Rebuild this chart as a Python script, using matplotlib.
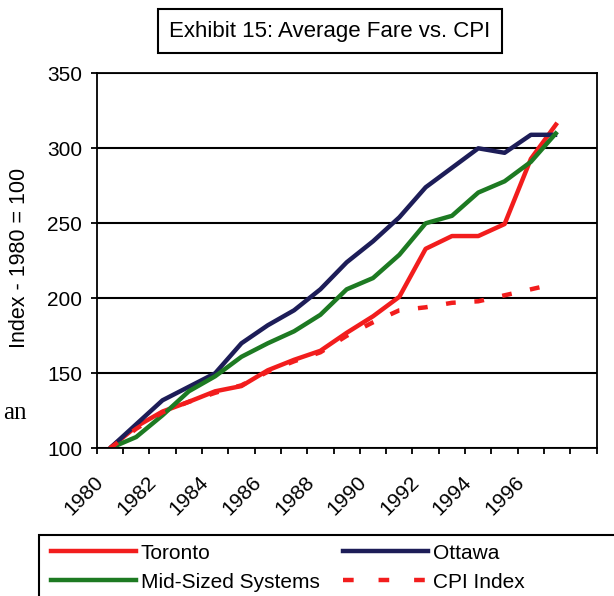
import numpy as np
import matplotlib.pyplot as plt
from matplotlib.patches import Rectangle
from matplotlib.lines import Line2D

years = list(range(1980, 1998))
toronto = [100, 114.5, 124.5, 131, 138, 141.5, 152, 159, 165, 177, 188, 201, 233, 241.5, 241.5, 249.5, 293, 317]
ottawa = [100, 116, 132, 141, 150, 170, 182, 192, 206, 224, 238, 254, 274, 287, 300, 297, 309, 309]
mid_sized = [100, 107.5, 122, 138, 148, 161, 170, 178, 189, 206, 213.5, 229, 250, 255, 270.5, 278, 291, 311]
cpi = [100, 113, 124, 131, 137, 142, 151, 158, 164, 175, 184, 192, 194, 197, 198, 202, 206, 210]

RED = '#f21d1d'
NAVY = '#1d1d58'
GREEN = '#1d7a22'

plt.rcParams['font.family'] = ['Liberation Sans', 'DejaVu Sans']

fig = plt.figure(figsize=(6.14, 5.96), dpi=100)
W, H = 614, 596
ax = fig.add_axes([96.7 / W, 1 - 448.3 / H, 500 / W, 375 / H])

x = np.arange(len(years))
ax.plot(x, toronto, color=RED, lw=3.2, solid_capstyle='butt')
ax.plot(x, ottawa, color=NAVY, lw=3.2, solid_capstyle='butt')
ax.plot(x, mid_sized, color=GREEN, lw=3.2, solid_capstyle='butt')
ax.plot(x, cpi, color=RED, lw=3.2, linestyle=(0, (2.2, 4.2)), dash_capstyle='butt')

ax.set_xlim(-0.5, len(years) + 0.5)
ax.set_ylim(100, 350)
ax.set_yticks(np.arange(100, 351, 50))
ax.yaxis.grid(True, color='black', lw=1.5)
ax.set_axisbelow(True)

# tick marks sit between categories, year labels go on every other category
ax.set_xticks(np.arange(-0.5, len(years) + 1))
ax.set_xticklabels([])
ax.set_xticks(x[::2] - 0.36, minor=True)
ax.set_xticklabels([str(y) for y in years[::2]], minor=True)
ax.tick_params(axis='x', which='major', direction='out', length=4.5, width=1.3, color='black')
ax.tick_params(axis='x', which='minor', length=0, pad=22, labelsize=15)
ax.tick_params(axis='y', direction='out', length=4.5, width=1.3, pad=6, labelsize=15)
plt.setp(ax.get_xminorticklabels(), rotation=45, ha='right', va='center', rotation_mode='anchor')

for s in ax.spines.values():
    s.set_color('black')
    s.set_linewidth(1.3)

fig.text(20 / W, 1 - 258 / H, 'Index - 1980 = 100', rotation=90, ha='center', va='center', fontsize=15.5)

fig.text(330 / W, 1 - 31 / H, 'Exhibit 15: Average Fare vs. CPI', ha='center', va='center', fontsize=16,
         bbox=dict(boxstyle='square,pad=0.5', fc='white', ec='black', lw=1.5))

fig.text(27 / W, 1 - 419 / H, 'an', ha='right', va='baseline', fontsize=18, family='Liberation Serif')

handles = [
    Line2D([], [], color=RED, lw=3.2),
    Line2D([], [], color=GREEN, lw=3.2),
    Line2D([], [], color=NAVY, lw=3.2),
    Line2D([], [], color=RED, lw=3.2, linestyle=(0, (2.4, 5.6))),
]
labels = ['Toronto', 'Mid-Sized Systems', 'Ottawa', 'CPI Index']
fig.legend(handles, labels, ncol=2, loc='upper left', bbox_to_anchor=(36 / W, 1 - 529 / H),
           frameon=False, fontsize=15, handlelength=4.08, handletextpad=0.24,
           columnspacing=1.15, labelspacing=0.48, borderpad=0.2)
fig.add_artist(Rectangle((39 / W, -0.1), 1.0, 0.1 + (1 - 535 / H), transform=fig.transFigure,
                         fill=False, ec='black', lw=1.5, clip_on=False))

fig.savefig('out.png', dpi=100)
